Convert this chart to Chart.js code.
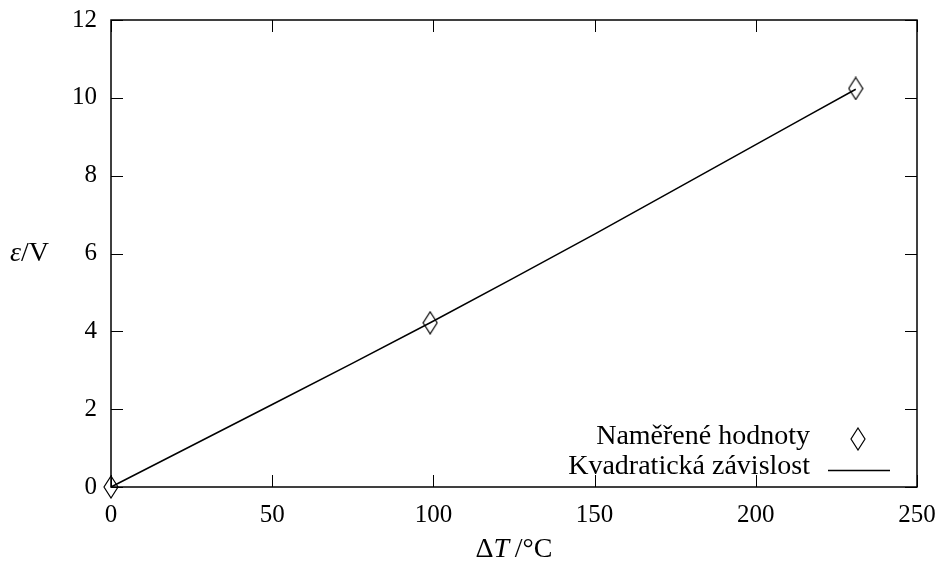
<!DOCTYPE html>
<html>
<head>
<meta charset="utf-8">
<script src="https://cdn.jsdelivr.net/npm/chart.js@4/dist/chart.umd.min.js"></script>
<style>
  html, body { margin: 0; padding: 0; background: #fff; }
  #wrap { width: 941px; height: 562px; }
</style>
</head>
<body>
<div id="wrap"><canvas id="chart" width="941" height="562"></canvas></div>
<script>
// naměřené body
const measuredX = [0, 99, 231];
const measuredY = [0, 4.22, 10.24];

// kvadratická závislost
const fitX = [0, 50, 99, 150, 200, 231];
const fitY = [0, 2.12, 4.22, 6.5, 8.8, 10.22];

const xTicks = [0, 50, 100, 150, 200, 250];
const yTicks = [0, 2, 4, 6, 8, 10, 12];

const labelMeasured = 'Naměřené hodnoty';
const labelFit = 'Kvadratická závislost';

const FONT = '"Liberation Serif", "DejaVu Serif", serif';
const TICK_SIZE = 25;
const TEXT_SIZE = 28;

// dutý kosočtverec jako v gnuplotu
function diamond() {
    const c = document.createElement('canvas');
    c.width = 16; c.height = 24;
    const g = c.getContext('2d');
    g.strokeStyle = '#000';
    g.lineWidth = 1.2;
    g.beginPath();
    g.moveTo(8, 1); g.lineTo(15, 12); g.lineTo(8, 23); g.lineTo(1, 12);
    g.closePath();
    g.stroke();
    return c;
}
const diamondImg = diamond();

// rámeček, tiky dovnitř na všech stranách, legenda a popisky os
const framePlugin = {
    id: 'frame',
    afterDraw(chart) {
        const ctx = chart.ctx;
        const a = chart.chartArea;
        const sx = chart.scales.x, sy = chart.scales.y;
        const tl = 12;
        ctx.save();
        ctx.strokeStyle = '#000';
        ctx.lineWidth = 1;
        ctx.beginPath();
        xTicks.forEach(v => {
            const px = Math.round(sx.getPixelForValue(v)) + 0.5;
            ctx.moveTo(px, a.bottom); ctx.lineTo(px, a.bottom - tl);
            ctx.moveTo(px, a.top); ctx.lineTo(px, a.top + tl);
        });
        yTicks.forEach(v => {
            const py = Math.round(sy.getPixelForValue(v)) + 0.5;
            ctx.moveTo(a.left, py); ctx.lineTo(a.left + tl, py);
            ctx.moveTo(a.right, py); ctx.lineTo(a.right - tl, py);
        });
        ctx.stroke();
        ctx.lineWidth = 1.5;
        ctx.strokeRect(a.left, a.top, a.right - a.left, a.bottom - a.top);

        // legenda
        ctx.fillStyle = '#000';
        ctx.font = TEXT_SIZE + 'px ' + FONT;
        ctx.textAlign = 'right';
        ctx.textBaseline = 'alphabetic';
        ctx.fillText(labelMeasured, 810, 444);
        ctx.fillText(labelFit, 810, 474);
        ctx.drawImage(diamondImg, 858 - 8, 439 - 12);
        ctx.beginPath();
        ctx.lineWidth = 1.5;
        ctx.moveTo(828, 470.5); ctx.lineTo(890, 470.5);
        ctx.stroke();

        // popisky os (smíšená kurzíva)
        const drawParts = (parts, x, y, align) => {
            let w = 0;
            parts.forEach(p => { ctx.font = p[1] + TEXT_SIZE + 'px ' + FONT; w += ctx.measureText(p[0]).width; });
            let cx = align === 'center' ? x - w / 2 : x;
            ctx.textAlign = 'left';
            parts.forEach(p => {
                ctx.font = p[1] + TEXT_SIZE + 'px ' + FONT;
                ctx.fillText(p[0], cx, y);
                cx += ctx.measureText(p[0]).width;
            });
        };
        drawParts([['ε', 'italic '], ['/V', '']], 10, 261, 'left');
        drawParts([['Δ', ''], ['T', 'italic '], ['\u2009/°C', '']], (a.left + a.right) / 2, 557, 'center');
        ctx.restore();
    }
};

new Chart(document.getElementById('chart'), {
    type: 'scatter',
    data: {
        datasets: [
            {
                label: labelFit,
                data: fitX.map((x, i) => ({ x: x, y: fitY[i] })),
                showLine: true,
                borderColor: '#000',
                borderWidth: 1.5,
                pointRadius: 0,
                tension: 0.3,
                clip: false
            },
            {
                label: labelMeasured,
                data: measuredX.map((x, i) => ({ x: x, y: measuredY[i] })),
                showLine: false,
                pointStyle: diamondImg,
                pointRadius: 8,
                clip: false
            }
        ]
    },
    options: {
        responsive: false,
        animation: false,
        devicePixelRatio: 1,
        layout: { padding: { left: 0, right: 24, top: 20, bottom: 0 } },
        plugins: {
            legend: { display: false },
            tooltip: { enabled: false }
        },
        scales: {
            x: {
                type: 'linear',
                min: 0, max: 250,
                afterBuildTicks: s => { s.ticks = xTicks.map(v => ({ value: v })); },
                afterFit: s => { s.height = 75; s.paddingLeft = 0; s.paddingRight = 0; },
                grid: { display: false, drawTicks: false },
                border: { display: false },
                ticks: {
                    color: '#000',
                    padding: 13,
                    maxRotation: 0,
                    font: { family: FONT, size: TICK_SIZE }
                }
            },
            y: {
                type: 'linear',
                min: 0, max: 12,
                afterBuildTicks: s => { s.ticks = yTicks.map(v => ({ value: v })); },
                afterFit: s => { s.width = 111; s.paddingTop = 0; s.paddingBottom = 0; },
                grid: { display: false, drawTicks: false },
                border: { display: false },
                ticks: {
                    color: '#000',
                    padding: 14,
                    font: { family: FONT, size: TICK_SIZE }
                }
            }
        }
    },
    plugins: [framePlugin]
});
</script>
</body>
</html>
